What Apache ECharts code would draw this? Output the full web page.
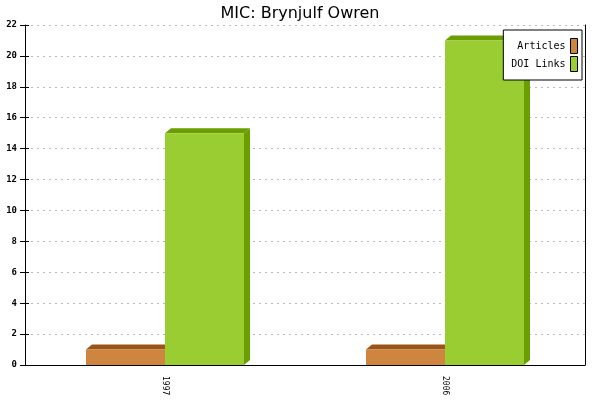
<!DOCTYPE html>
<html><head><meta charset="utf-8">
<script src="https://cdn.jsdelivr.net/npm/echarts@6/dist/echarts.min.js"></script>
<style>html,body{margin:0;padding:0;background:#fff}#c{width:600px;height:400px}</style>
</head><body><div id="c"></div>
<script>
const categories = ['1997', '2006'];
const articles = [1, 1];
const doiLinks = [15, 21];
const yTicks = [0, 2, 4, 6, 8, 10, 12, 14, 16, 18, 20, 22];

const chart = echarts.init(document.getElementById('c'));
const DX = 6, DY = 5;
function makeRender(offsetSide, front, dark) {
  return function (params, api) {
    const ci = api.value(0), v = api.value(1);
    const base = api.coord([ci, 0]);
    const top = api.coord([ci, v]);
    const band = api.size([1, 0])[0];
    const w = band * 79 / 280;
    const x0 = offsetSide < 0 ? base[0] - w : base[0];
    const x1 = x0 + w;
    const yT = top[1], yB = base[1];
    return {
      type: 'group',
      children: [
        { type: 'polygon', shape: { points: [[x1, yT], [x1 + DX, yT - DY], [x1 + DX, yB - DY], [x1, yB]] }, style: { fill: dark } },
        { type: 'polygon', shape: { points: [[x0, yT], [x0 + DX, yT - DY], [x1 + DX, yT - DY], [x1, yT]] }, style: { fill: dark } },
        { type: 'rect', shape: { x: x0, y: yT, width: w, height: yB - yT }, style: { fill: front } }
      ]
    };
  };
}
const orange = '#CD853F', orangeDark = '#9C5416';
const green = '#9ACD32', greenDark = '#6B9E00';
const font = 'DejaVu Sans Mono';
chart.setOption({
  animation: false,
  backgroundColor: '#fff',
  title: { text: 'MIC: Brynjulf Owren', left: 'center', top: 1,
    textStyle: { fontFamily: 'DejaVu Sans', fontSize: 16, fontWeight: 'normal', color: '#000' } },
  grid: { left: 25, right: 15, top: 25, bottom: 35 },
  legend: {
    orient: 'vertical', right: 18, top: 30, align: 'right',
    backgroundColor: '#fff', borderColor: '#000', borderWidth: 1,
    padding: [8, 4, 8, 8], itemWidth: 7, itemHeight: 15, itemGap: 2,
    textStyle: { fontFamily: font, fontSize: 10, color: '#000' },
    formatter: n => n.padStart(9, ' '),
    data: [
      { name: 'Articles', icon: 'rect', itemStyle: { color: orange, borderColor: '#000', borderWidth: 1 } },
      { name: 'DOI Links', icon: 'rect', itemStyle: { color: green, borderColor: '#000', borderWidth: 1 } }
    ]
  },
  xAxis: {
    type: 'category', data: categories, boundaryGap: true,
    axisLine: { lineStyle: { color: '#000', width: 1 } },
    axisTick: { length: 5, lineStyle: { color: '#000' } },
    axisLabel: { rotate: -90, fontFamily: font, fontSize: 8, color: '#000', margin: 11 },
    splitLine: { show: false }
  },
  yAxis: [{
    type: 'value', min: 0, max: 22, interval: 2,
    axisLine: { show: true, lineStyle: { color: '#000' } },
    axisTick: { show: true, length: 5, lineStyle: { color: '#000' } },
    axisLabel: { fontFamily: font, fontSize: 9, fontWeight: 'bold', color: '#000', margin: 8,
      formatter: v => yTicks.includes(v) ? String(v) : '' },
    splitLine: { show: true, lineStyle: { color: '#bbb', type: [2, 4] } }
  }, {
    type: 'value', min: 0, max: 22, interval: 2, position: 'right',
    axisLine: { show: true, lineStyle: { color: '#000' } },
    axisTick: { show: false }, axisLabel: { show: false }, splitLine: { show: false }
  }, {
    type: 'value', min: 0, max: 22, interval: 2, position: 'left',
    axisLine: { show: false },
    axisTick: { show: true, inside: true, length: 4, lineStyle: { color: '#000' } },
    axisLabel: { show: false }, splitLine: { show: false }
  }],
  series: [
    { name: 'Articles', type: 'custom', itemStyle: { color: orange },
      renderItem: makeRender(-1, orange, orangeDark),
      data: articles.map((v, i) => [i, v]), encode: { x: 0, y: 1 } },
    { name: 'DOI Links', type: 'custom', itemStyle: { color: green },
      renderItem: makeRender(1, green, greenDark),
      data: doiLinks.map((v, i) => [i, v]), encode: { x: 0, y: 1 } }
  ]
});
</script></body></html>
